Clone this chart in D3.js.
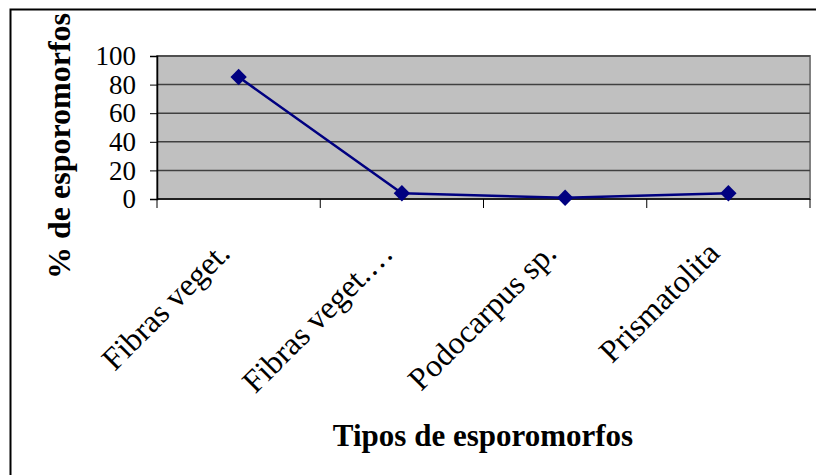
<!DOCTYPE html>
<html>
<head>
<meta charset="utf-8">
<script src="https://cdn.jsdelivr.net/npm/d3@7"></script>
<style>
  body { margin: 0; background: #fff; }
  text { font-family: "Liberation Serif", "Times New Roman", serif; }
</style>
</head>
<body>
<svg width="816" height="475"></svg>
<script>
const width = 816;
const height = 475;

const categories = ["Fibras veget.", "Fibras veget.…", "Podocarpus sp.", "Prismatolita"];
const values = [85.3, 4, 0.9, 4];
const yTicks = [0, 20, 40, 60, 80, 100];

const plot = { left: 157, right: 810, top: 56, bottom: 199 };

const svg = d3.select("svg")
  .attr("viewBox", [0, 0, width, height]);

// outer chart frame (only top/left visible)
svg.append("rect")
  .attr("x", 10.5).attr("y", 9.5)
  .attr("width", 900).attr("height", 600)
  .attr("fill", "none")
  .attr("stroke", "#000")
  .attr("stroke-width", 2);

const x = d3.scaleBand()
  .domain(categories)
  .range([plot.left, plot.right])
  .padding(0);

const y = d3.scaleLinear()
  .domain([0, 100])
  .range([plot.bottom, plot.top]);

// plot area
svg.append("rect")
  .attr("x", plot.left).attr("y", plot.top)
  .attr("width", plot.right - plot.left)
  .attr("height", plot.bottom - plot.top)
  .attr("fill", "#c0c0c0")
  .attr("stroke", "#808080")
  .attr("stroke-width", 2);

// gridlines
svg.append("g")
  .selectAll("line")
  .data(yTicks.filter(d => d > 0))
  .join("line")
  .attr("x1", plot.left).attr("x2", plot.right)
  .attr("y1", d => y(d)).attr("y2", d => y(d))
  .attr("stroke", "#404040")
  .attr("stroke-width", 1.5);

// y axis
const yAxis = svg.append("g")
  .attr("transform", `translate(${plot.left},0)`)
  .call(d3.axisLeft(y).tickValues(yTicks).tickSize(7).tickPadding(14));
yAxis.select(".domain").attr("stroke", "#000").attr("stroke-width", 1.5);
yAxis.selectAll(".tick line").attr("stroke", "#000");
yAxis.selectAll(".tick text")
  .attr("font-size", 27)
  .attr("fill", "#000");

// x axis with ticks at band edges
const xAxis = svg.append("g")
  .attr("transform", `translate(0,${plot.bottom})`);
xAxis.append("line")
  .attr("x1", plot.left).attr("x2", plot.right)
  .attr("stroke", "#000").attr("stroke-width", 1.5);
const edges = categories.map(c => x(c)).concat([plot.right]);
xAxis.selectAll("line.tick")
  .data(edges)
  .join("line")
  .attr("class", "tick")
  .attr("x1", d => d).attr("x2", d => d)
  .attr("y1", 0).attr("y2", 9)
  .attr("stroke", "#000");

// category labels
svg.append("g")
  .selectAll("text")
  .data(categories)
  .join("text")
  .attr("transform", d => `translate(${x(d) + x.bandwidth() / 2 - 7},${plot.bottom + 56}) rotate(-45)`)
  .attr("text-anchor", "end")
  .attr("font-size", 32)
  .text(d => d);

// series line
const line = d3.line()
  .x((d, i) => x(categories[i]) + x.bandwidth() / 2)
  .y(d => y(d));

svg.append("path")
  .datum(values)
  .attr("d", line)
  .attr("fill", "none")
  .attr("stroke", "#000080")
  .attr("stroke-width", 2.5);

svg.append("g")
  .selectAll("path")
  .data(values)
  .join("path")
  .attr("transform", (d, i) => `translate(${x(categories[i]) + x.bandwidth() / 2},${y(d)})`)
  .attr("d", d3.symbol(d3.symbolDiamond2, 170))
  .attr("fill", "#000080");

// axis titles
svg.append("text")
  .attr("transform", "translate(70,146) rotate(-90)")
  .attr("text-anchor", "middle")
  .attr("font-size", 32)
  .attr("font-weight", "bold")
  .text("% de esporomorfos");

svg.append("text")
  .attr("x", 483)
  .attr("y", 446)
  .attr("text-anchor", "middle")
  .attr("font-size", 31)
  .attr("font-weight", "bold")
  .text("Tipos de esporomorfos");
</script>
</body>
</html>
